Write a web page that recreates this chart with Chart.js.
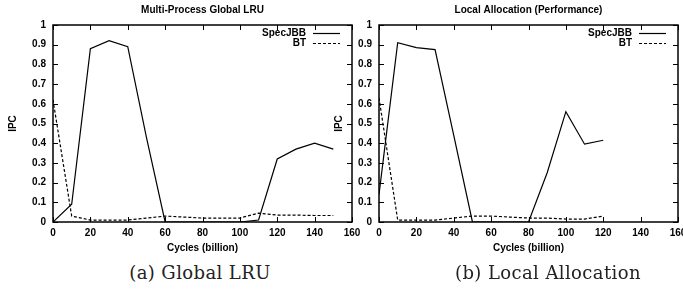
<!DOCTYPE html>
<html>
<head>
<meta charset="utf-8">
<script src="https://cdn.jsdelivr.net/npm/chart.js@4.4.1/dist/chart.umd.min.js"></script>
<style>
  html, body { margin: 0; padding: 0; background: #fff; overflow: hidden; }
  body { width: 683px; height: 291px; position: relative; }
  canvas { position: absolute; top: 0; }
  #lru { left: 0px; }
  #local { left: 326px; }
  .caption { position: absolute; top: 262px; font-family: "DejaVu Serif", serif; font-size: 18px; letter-spacing: 0.4px; color: #222; transform: translateX(-50%); white-space: nowrap; }
</style>
</head>
<body>
<canvas id="lru" width="370" height="260"></canvas>
<canvas id="local" width="370" height="260"></canvas>
<div class="caption" style="left:200px">(a) Global LRU</div>
<div class="caption" style="left:548px">(b) Local Allocation</div>
<script>
// values
var lruCycles = [0, 10, 20, 30, 40, 50, 60, 70, 80, 90, 100, 110, 120, 130, 140, 150];
var lruSpecJBB = [0, 0.09, 0.88, 0.92, 0.89, 0.43, 0, 0, 0, 0, 0, 0.01, 0.32, 0.37, 0.40, 0.37];
var lruBT = [0.62, 0.03, 0.01, 0.01, 0.01, 0.02, 0.03, 0.025, 0.02, 0.02, 0.02, 0.045, 0.035, 0.035, 0.033, 0.033];

var localCycles = [0, 10, 20, 30, 40, 50, 60, 70, 80, 90, 100, 110, 120];
var localSpecJBB = [0.14, 0.91, 0.885, 0.875, 0.44, 0, 0, 0, 0, 0.25, 0.56, 0.395, 0.415];
var localBT = [0.63, 0.01, 0.01, 0.01, 0.02, 0.03, 0.03, 0.025, 0.02, 0.02, 0.015, 0.015, 0.03];

var seriesNames = ["SpecJBB", "BT"];
var xTicks = [0, 20, 40, 60, 80, 100, 120, 140, 160];
var yTicks = [0, 0.1, 0.2, 0.3, 0.4, 0.5, 0.6, 0.7, 0.8, 0.9, 1];

var boldFont = {family: "'Liberation Sans', Arial, sans-serif", size: 10, weight: "bold"};

function pts(xs, ys) {
    return xs.map(function (x, i) { return {x: x, y: ys[i]}; });
}

// gnuplot-like frame, inward ticks, title and legend
var gnuFrame = {
    id: "gnuFrame",
    afterDraw: function (chart) {
        var ctx = chart.ctx, a = chart.chartArea;
        var xs = chart.scales.x, ys = chart.scales.y;
        ctx.save();
        ctx.strokeStyle = "#000";
        ctx.lineWidth = 1;
        ctx.beginPath();
        xTicks.forEach(function (v) {
            var px = Math.round(xs.getPixelForValue(v)) + 0.5;
            ctx.moveTo(px, a.bottom); ctx.lineTo(px, a.bottom - 5);
            ctx.moveTo(px, a.top); ctx.lineTo(px, a.top + 5);
        });
        yTicks.forEach(function (v) {
            var py = Math.round(ys.getPixelForValue(v)) + 0.5;
            ctx.moveTo(a.left, py); ctx.lineTo(a.left + 5, py);
            ctx.moveTo(a.right, py); ctx.lineTo(a.right - 5, py);
        });
        ctx.stroke();
        ctx.lineWidth = 1.5;
        ctx.strokeRect(a.left, a.top, a.right - a.left, a.bottom - a.top);

        ctx.fillStyle = "#000";
        ctx.font = "bold 10px 'Liberation Sans', Arial, sans-serif";
        ctx.textAlign = "center";
        ctx.textBaseline = "middle";
        ctx.fillText(chart.options.plugins.gnuFrame.title, (a.left + a.right) / 2, 10);

        // legend
        ctx.textAlign = "right";
        var lineEnd = a.right - 12, lineStart = lineEnd - 27;
        chart.data.datasets.forEach(function (ds, i) {
            var y = a.top + 8 + i * 10;
            ctx.fillText(ds.label, lineStart - 7, y);
            ctx.beginPath();
            ctx.lineWidth = 1.2;
            ctx.setLineDash(ds.borderDash || []);
            ctx.moveTo(lineStart, y + 0.5); ctx.lineTo(lineEnd, y + 0.5);
            ctx.stroke();
        });
        ctx.restore();
    }
};

function makeChart(id, title, xs, jbb, bt) {
    return new Chart(document.getElementById(id), {
        type: "line",
        data: {
            datasets: [
                {label: seriesNames[0], data: pts(xs, jbb), borderColor: "#000", borderWidth: 1.2, pointRadius: 0, tension: 0, fill: false},
                {label: seriesNames[1], data: pts(xs, bt), borderColor: "#000", borderWidth: 1.2, borderDash: [3, 2], pointRadius: 0, tension: 0, fill: false}
            ]
        },
        options: {
            responsive: false,
            animation: false,
            layout: {padding: {top: 25, right: 18, left: 0, bottom: 0}},
            plugins: {
                legend: {display: false},
                tooltip: {enabled: false},
                gnuFrame: {title: title}
            },
            scales: {
                x: {
                    type: "linear", min: 0, max: 160,
                    afterBuildTicks: function (s) { s.ticks = xTicks.map(function (v) { return {value: v}; }); },
                    afterFit: function (s) { s.height = 38; },
                    grid: {display: false, drawTicks: false},
                    border: {display: false},
                    ticks: {color: "#000", font: boldFont, padding: 5, maxRotation: 0},
                    title: {display: true, text: "Cycles (billion)", color: "#000", font: boldFont, padding: {top: 0, bottom: 6}}
                },
                y: {
                    min: 0, max: 1,
                    afterBuildTicks: function (s) { s.ticks = yTicks.map(function (v) { return {value: v}; }); },
                    afterFit: function (s) { s.width = 53; },
                    grid: {display: false, drawTicks: false},
                    border: {display: false},
                    ticks: {color: "#000", font: boldFont, padding: 7, callback: function (v) { return String(Math.round(v * 10) / 10); }},
                    title: {display: true, text: "IPC", color: "#000", font: boldFont, padding: {top: 7, bottom: 0}}
                }
            }
        },
        plugins: [gnuFrame]
    });
}

makeChart("lru", "Multi-Process Global LRU", lruCycles, lruSpecJBB, lruBT);
makeChart("local", "Local Allocation (Performance)", localCycles, localSpecJBB, localBT);
</script>
</body>
</html>
